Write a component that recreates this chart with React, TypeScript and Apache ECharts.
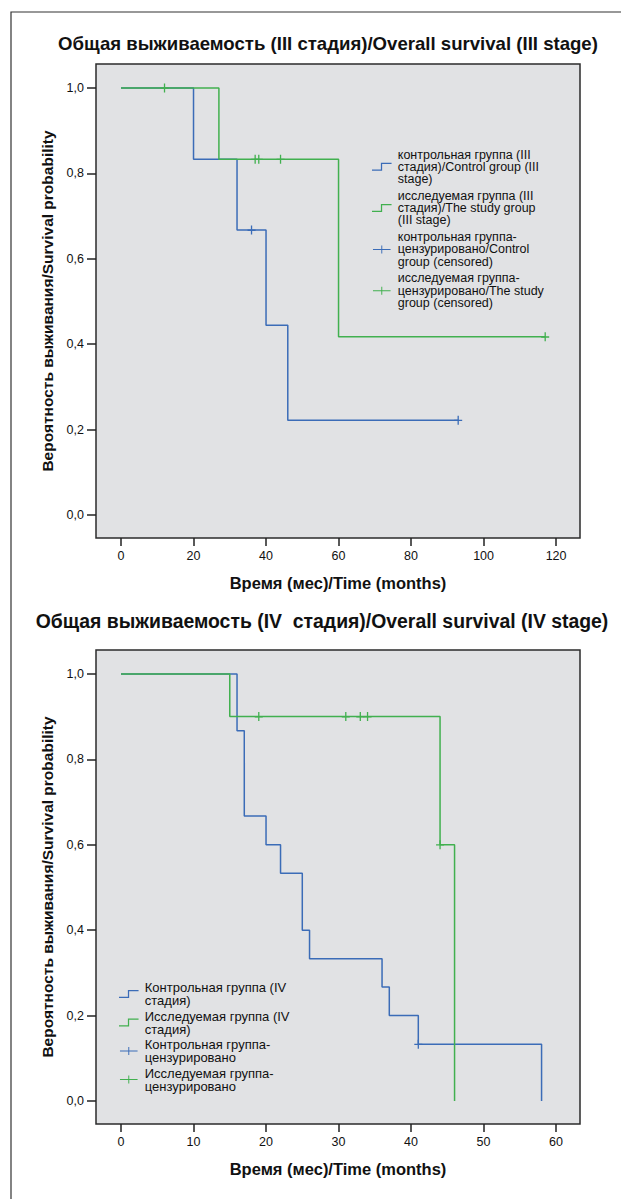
import React, { useEffect, useRef } from "react";
import * as echarts from "echarts";

// ---- Data: stage III ----
const s3ControlTimes = [0, 20, 32, 40, 46, 93];
const s3ControlSurv = [1, 0.833, 0.667, 0.444, 0.222, 0.222];
const s3ControlCensTimes = [36, 93];
const s3ControlCensSurv = [0.667, 0.222];
const s3StudyTimes = [0, 27, 60, 117];
const s3StudySurv = [1, 0.833, 0.417, 0.417];
const s3StudyCensTimes = [12, 37, 38, 44, 117];
const s3StudyCensSurv = [1, 0.833, 0.833, 0.833, 0.417];
const s3XTicks = [0, 20, 40, 60, 80, 100, 120];

// ---- Data: stage IV ----
const s4ControlTimes = [0, 16, 17, 20, 22, 25, 26, 36, 37, 41, 58];
const s4ControlSurv = [1, 0.867, 0.667, 0.6, 0.533, 0.4, 0.333, 0.267, 0.2, 0.133, 0];
const s4ControlCensTimes = [41];
const s4ControlCensSurv = [0.133];
const s4StudyTimes = [0, 15, 44, 46];
const s4StudySurv = [1, 0.9, 0.6, 0];
const s4StudyCensTimes = [19, 31, 33, 34, 44];
const s4StudyCensSurv = [0.9, 0.9, 0.9, 0.9, 0.6];
const s4XTicks = [0, 10, 20, 30, 40, 50, 60];

const yTicks = [0, 0.2, 0.4, 0.6, 0.8, 1.0];

const title3 = "Общая выживаемость (III стадия)/Overall survival (III stage)";
const title4 = "Общая выживаемость (IV  стадия)/Overall survival (IV stage)";
const xName = "Время (мес)/Time (months)";
const yName = "Вероятность выживания/Survival probability";

const n3Ctrl = "контрольная группа (III\nстадия)/Control group (III\nstage)";
const n3Study = "исследуемая группа (III\nстадия)/The study group\n(III stage)";
const n3CtrlC = "контрольная группа-\nцензурировано/Control\ngroup (censored)";
const n3StudyC = "исследуемая группа-\nцензурировано/The study\ngroup (censored)";
const n4Ctrl = "Контрольная группа (IV\nстадия)";
const n4Study = "Исследуемая группа (IV\nстадия)";
const n4CtrlC = "Контрольная группа-\nцензурировано";
const n4StudyC = "Исследуемая группа-\nцензурировано";

const BLUE = "#3b6cb7";
const GREEN = "#41b04f";
const FONT = "'Liberation Sans', Arial, sans-serif";

const zip = (a: number[], b: number[]) => a.map((v, i) => [v, b[i]]);

const STEP_ICON = "path://M0,8.6 L10,8.6 L10,1 L22,1 L22,2.4 L11.4,2.4 L11.4,10 L0,10 Z";
const CROSS_ICON = "path://M0,4.4 L22,4.4 L22,5.6 L0,5.6 Z M10.4,0 L11.6,0 L11.6,10 L10.4,10 Z";
const CENSOR = "path://M0,4 L8,4 L8,5.3 L0,5.3 Z M3.35,0 L4.65,0 L4.65,9 L3.35,9 Z";

function makeAxes(gi: number, xmin: number, xmax: number, xticks: number[]) {
  const x = {
    type: "value",
    gridIndex: gi,
    min: xmin,
    max: xmax,
    axisLine: { show: false, onZero: false },
    splitLine: { show: false },
    axisTick: { show: true, length: 8, customValues: xticks, lineStyle: { color: "#222", width: 1.5 } },
    axisLabel: { customValues: xticks, fontSize: 12.5, color: "#111", margin: 11, fontFamily: FONT },
    name: xName,
    nameLocation: "middle",
    nameGap: 36,
    nameTextStyle: { fontWeight: "bold", fontSize: 16.5, color: "#111", fontFamily: FONT },
  };
  const y = {
    type: "value",
    gridIndex: gi,
    min: -0.054,
    max: 1.056,
    axisLine: { show: false, onZero: false },
    splitLine: { show: false },
    axisTick: { show: true, length: 9, customValues: yTicks, lineStyle: { color: "#222", width: 1.5 } },
    axisLabel: {
      customValues: yTicks,
      fontSize: 12.5,
      color: "#111",
      margin: 12,
      fontFamily: FONT,
      formatter: (v: number) => v.toFixed(1).replace(".", ","),
    },
    name: yName,
    nameLocation: "middle",
    nameGap: 38,
    nameTextStyle: { fontWeight: "bold", fontSize: 15.5, color: "#111", fontFamily: FONT },
  };
  return { x, y };
}

function lineSeries(name: string, gi: number, data: number[][], color: string, z: number) {
  return {
    name,
    type: "line",
    xAxisIndex: gi,
    yAxisIndex: gi,
    step: "end",
    data,
    symbol: "none",
    lineStyle: { color, width: 1.5 },
    itemStyle: { color },
    z,
  };
}

function censSeries(name: string, gi: number, data: number[][], color: string) {
  return {
    name,
    type: "scatter",
    xAxisIndex: gi,
    yAxisIndex: gi,
    data,
    symbol: CENSOR,
    symbolSize: [8, 9],
    itemStyle: { color, opacity: 1 },
    z: 5,
  };
}

export default function App() {
  const ref = useRef<HTMLDivElement>(null);
  useEffect(() => {
    if (!ref.current) return;
    const chart = echarts.init(ref.current, undefined, { renderer: "svg" });
    const a3 = makeAxes(0, -6.9, 126.6, s3XTicks);
    const a4 = makeAxes(1, -3.45, 63.3, s4XTicks);
    const legendText = { color: "#111", fontFamily: FONT };
    chart.setOption({
      animation: false,
      backgroundColor: "#ffffff",
      grid: [
        { left: 96, top: 64, width: 484, height: 474, show: true, backgroundColor: "#e1e2e4", borderColor: "#2b2b2b", borderWidth: 1.5 },
        { left: 96, top: 650, width: 484, height: 474, show: true, backgroundColor: "#e1e2e4", borderColor: "#2b2b2b", borderWidth: 1.5 },
      ],
      xAxis: [a3.x, a4.x],
      yAxis: [a3.y, a4.y],
      legend: [
        {
          orient: "vertical",
          left: 367,
          top: 143,
          itemWidth: 22,
          itemHeight: 8,
          itemGap: 3.7,
          textStyle: { ...legendText, fontSize: 12.5, lineHeight: 12.3 },
          data: [
            { name: n3Ctrl, icon: STEP_ICON, itemStyle: { color: BLUE, borderWidth: 0 } },
            { name: n3Study, icon: STEP_ICON, itemStyle: { color: GREEN, borderWidth: 0 } },
            { name: n3CtrlC, icon: CROSS_ICON, itemStyle: { color: BLUE, borderWidth: 0 } },
            { name: n3StudyC, icon: CROSS_ICON, itemStyle: { color: GREEN, borderWidth: 0 } },
          ],
        },
        {
          orient: "vertical",
          left: 114,
          top: 976,
          itemWidth: 22,
          itemHeight: 8,
          itemGap: 2.5,
          textStyle: { ...legendText, fontSize: 13, lineHeight: 13 },
          data: [
            { name: n4Ctrl, icon: STEP_ICON, itemStyle: { color: BLUE, borderWidth: 0 } },
            { name: n4Study, icon: STEP_ICON, itemStyle: { color: GREEN, borderWidth: 0 } },
            { name: n4CtrlC, icon: CROSS_ICON, itemStyle: { color: BLUE, borderWidth: 0 } },
            { name: n4StudyC, icon: CROSS_ICON, itemStyle: { color: GREEN, borderWidth: 0 } },
          ],
        },
      ],
      series: [
        lineSeries(n3Ctrl, 0, zip(s3ControlTimes, s3ControlSurv), BLUE, 2),
        lineSeries(n3Study, 0, zip(s3StudyTimes, s3StudySurv), GREEN, 3),
        censSeries(n3CtrlC, 0, zip(s3ControlCensTimes, s3ControlCensSurv), BLUE),
        censSeries(n3StudyC, 0, zip(s3StudyCensTimes, s3StudyCensSurv), GREEN),
        lineSeries(n4Ctrl, 1, zip(s4ControlTimes, s4ControlSurv), BLUE, 2),
        lineSeries(n4Study, 1, zip(s4StudyTimes, s4StudySurv), GREEN, 3),
        censSeries(n4CtrlC, 1, zip(s4ControlCensTimes, s4ControlCensSurv), BLUE),
        censSeries(n4StudyC, 1, zip(s4StudyCensTimes, s4StudyCensSurv), GREEN),
      ],
      graphic: [
        {
          type: "rect",
          silent: true,
          shape: { x: 11, y: 12, width: 660, height: 1200 },
          style: { fill: "none", stroke: "#333", lineWidth: 1.2 },
        },
        {
          type: "text",
          x: 328,
          y: 43,
          style: { text: title3, fill: "#111", font: `bold 18.6px ${FONT}`, textAlign: "center", textVerticalAlign: "middle" },
        },
        {
          type: "text",
          x: 322,
          y: 621,
          style: { text: title4, fill: "#111", font: `bold 19.4px ${FONT}`, textAlign: "center", textVerticalAlign: "middle" },
        },
      ],
    });
    return () => chart.dispose();
  }, []);
  return <div ref={ref} style={{ position: "absolute", left: 0, top: 0, width: 621, height: 1199 }} />;
}
